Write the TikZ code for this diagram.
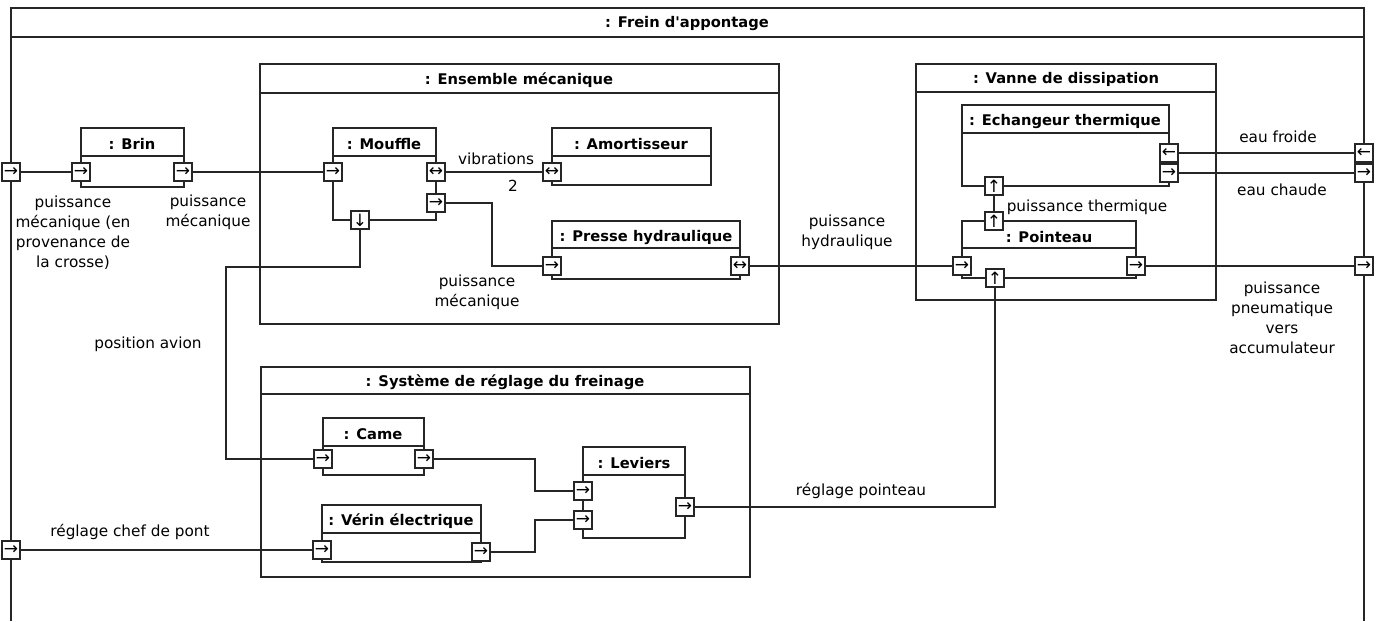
\documentclass[tikz,border=0pt]{standalone}
\usepackage{fontspec}
\setmainfont{DejaVu Sans}[Ligatures=TeXOff]

\tikzset{
  part/.style={draw=black!85, line width=1.3pt},
  wire/.style={draw=black!85, line width=1.2pt},
  port/.style={draw=black!85, fill=white, line width=1.2pt, minimum size=18pt,
    inner sep=0pt, font=\fontsize{17}{17}\selectfont},
  ttl/.style={font=\bfseries\fontsize{14.7}{18}\selectfont},
  lbl/.style={font=\fontsize{15.3}{20}\selectfont, align=center}
}

\begin{document}
\begin{tikzpicture}[x=1pt,y=-1pt]
  \useasboundingbox (0,0) rectangle (1380,621);

  % outer block
  \draw[part] (11,621) |- (1364,8) -- (1364,621);
  \draw[part] (11,37) -- (1364,37);
  \node[ttl] (frein) at (687,24) {: Frein d'appontage};

  % sub-assemblies
  \draw[part] (260,64) rectangle (779,324);
  \draw[part] (260,93) -- (779,93);
  \node[ttl] (ensemble) at (519,80) {: Ensemble mécanique};

  \draw[part] (916,64) rectangle (1216,300);
  \draw[part] (916,92) -- (1216,92);
  \node[ttl] (vanne) at (1066,79) {: Vanne de dissipation};

  \draw[part] (261,367) rectangle (750,577);
  \draw[part] (261,394) -- (750,394);
  \node[ttl] (reglage) at (505,382) {: Système de réglage du freinage};

  % parts
  \draw[part] (81,128) rectangle (184,187);
  \draw[part] (81,156) -- (184,156);
  \node[ttl] (brin) at (132,144) {: Brin};

  \draw[part] (333,128) rectangle (436,220);
  \draw[part] (333,156) -- (436,156);
  \node[ttl] (mouffle) at (384,144) {: Mouffle};

  \draw[part] (552,128) rectangle (711,185);
  \draw[part] (552,156) -- (711,156);
  \node[ttl] (amort) at (631,144) {: Amortisseur};

  \draw[part] (552,221) rectangle (740,279);
  \draw[part] (552,248) -- (740,248);
  \node[ttl] (presse) at (646,237) {: Presse hydraulique};

  \draw[part] (962,105) rectangle (1169,186);
  \draw[part] (962,133) -- (1169,133);
  \node[ttl] (echang) at (1065,121) {: Echangeur thermique};

  \draw[part] (962,221) rectangle (1136,278);
  \draw[part] (962,248) -- (1136,248);
  \node[ttl] (pointeau) at (1049,237) {: Pointeau};

  \draw[part] (323,418) rectangle (424,475);
  \draw[part] (323,446) -- (424,446);
  \node[ttl] (came) at (373,434) {: Came};

  \draw[part] (322,505) rectangle (481,562);
  \draw[part] (322,533) -- (481,533);
  \node[ttl] (verin) at (401,521) {: Vérin électrique};

  \draw[part] (583,447) rectangle (685,538);
  \draw[part] (583,475) -- (685,475);
  \node[ttl] (leviers) at (634,463) {: Leviers};

  % bend points
  \coordinate (bendP) at (492,266);
  \coordinate (bendA) at (226,267);
  \coordinate (jctA) at (535,491);
  \coordinate (jctB) at (535,520);

  % connectors
  \draw[wire] (11,172) -- (81,172);
  \draw[wire] (183,172) -- (333,172);
  \draw[wire] (436,172) -- (552,172);
  \draw[wire] (436,203) -| (bendP) -- (552,266);
  \draw[wire] (360,220) |- (bendA) |- (323,459);
  \draw[wire] (424,459) -| (jctA) -- (583,491);
  \draw[wire] (481,552) -| (jctB) -- (583,520);
  \draw[wire] (685,507) -| (995,278);
  \draw[wire] (11,550) -- (322,550);
  \draw[wire] (740,266) -- (962,266);
  \draw[wire] (1136,266) -- (1364,266);
  \draw[wire] (1169,153) -- (1364,153);
  \draw[wire] (1169,173) -- (1364,173);
  \draw[wire] (994,186) -- (994,221);

  % ports
  \node[port] (frL) at (11,172) {→};
  \node[port] (frR) at (11,550) {→};
  \node[port] (frF) at (1364,153) {←};
  \node[port] (frC) at (1364,173) {→};
  \node[port] (frP) at (1364,266) {→};
  \node[port] (brinL) at (81,172) {→};
  \node[port] (brinR) at (183,172) {→};
  \node[port] (mouL) at (333,172) {→};
  \node[port] (mouV) at (436,172) {↔};
  \node[port] (mouP) at (436,203) {→};
  \node[port] (mouD) at (360,220) {↓};
  \node[port] (amoV) at (552,172) {↔};
  \node[port] (preL) at (552,266) {→};
  \node[port] (preR) at (740,266) {↔};
  \node[port] (echF) at (1169,153) {←};
  \node[port] (echC) at (1169,173) {→};
  \node[port] (echU) at (994,186) {↑};
  \node[port] (poiT) at (994,221) {↑};
  \node[port] (poiL) at (962,266) {→};
  \node[port] (poiR) at (1136,266) {→};
  \node[port] (poiB) at (995,278) {↑};
  \node[port] (camL) at (323,459) {→};
  \node[port] (camR) at (424,459) {→};
  \node[port] (verL) at (322,550) {→};
  \node[port] (verR) at (481,552) {→};
  \node[port] (levA) at (583,491) {→};
  \node[port] (levB) at (583,520) {→};
  \node[port] (levR) at (685,507) {→};

  % labels
  \node[lbl] (lCrosse) at (73,233) {puissance\\mécanique (en\\provenance de\\la crosse)};
  \node[lbl] (lBrin) at (208,212) {puissance\\mécanique};
  \node[lbl] (lVib) at (496,159) {vibrations};
  \node[lbl] (lMult) at (513,186) {2};
  \node[lbl] (lMeca) at (477,292) {puissance\\mécanique};
  \node[lbl] (lHydr) at (847,232) {puissance\\hydraulique};
  \node[lbl] (lTherm) at (1087,207) {puissance thermique};
  \node[lbl] (lFroide) at (1278,137) {eau froide};
  \node[lbl] (lChaude) at (1282,190) {eau chaude};
  \node[lbl] (lPneu) at (1282,318) {puissance\\pneumatique\\vers\\accumulateur};
  \node[lbl] (lPos) at (148,344) {position avion};
  \node[lbl] (lChef) at (130,532) {réglage chef de pont};
  \node[lbl] (lPoint) at (861,491) {réglage pointeau};
\end{tikzpicture}
\end{document}
